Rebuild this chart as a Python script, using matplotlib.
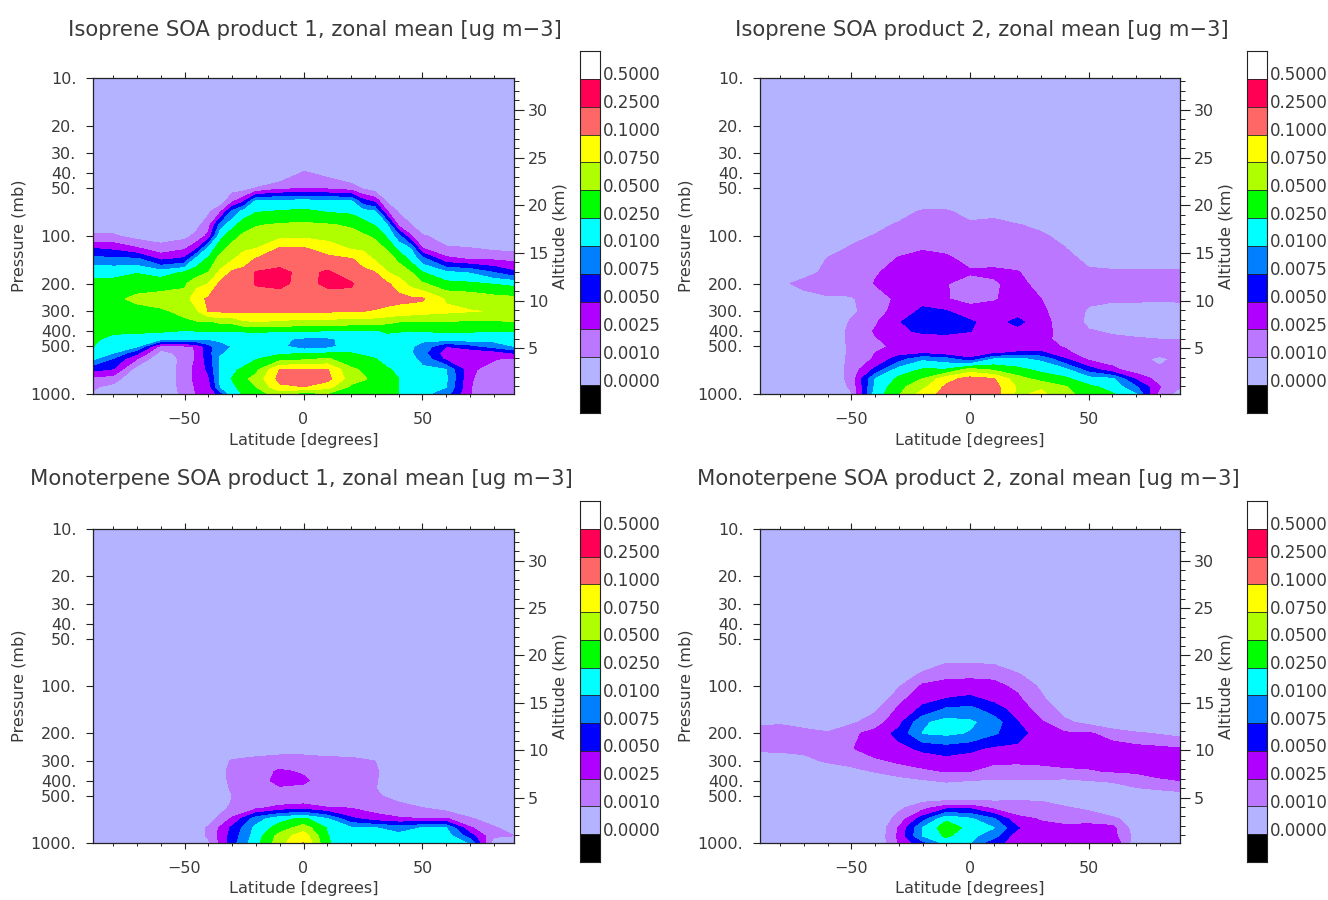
"""
Zonal mean SOA cross sections, four panels with a shared step colour scale.
"""
import numpy as np
import matplotlib
matplotlib.use("Agg")
import matplotlib.pyplot as plt
from matplotlib.colors import ListedColormap
from matplotlib.ticker import FixedLocator, FixedFormatter, NullLocator

W, H = 1328, 900

lat = [-88.5, -80, -70, -60, -50, -40, -30, -20, -10, 0, 10, 20, 30, 40, 50, 60, 70, 80, 88.5]
lat_iso1 = [-88.5, -80, -70, -60, -50, -45, -40, -35, -30, -25, -20, -10, 0, 10, 20, 25, 30, 35, 40, 45, 50, 60, 70, 80, 88.5]
pres = [10, 30, 40, 50, 60, 70, 85, 100, 120, 140, 170, 200, 250, 300, 350, 400, 450, 500, 550, 600, 700, 800, 900, 1000]

levels = [0, .001, .0025, .005, .0075, .01, .025, .05, .075, .1, .25, .5]
level_labels = ['0.0000', '0.0010', '0.0025', '0.0050', '0.0075', '0.0100',
                '0.0250', '0.0500', '0.0750', '0.1000', '0.2500', '0.5000']
colors = ['#b3b3ff', '#bb77ff', '#b000ff', '#0000ff', '#0080ff', '#00ffff',
          '#00ff00', '#b0ff00', '#ffff00', '#ff6666', '#ff0055', '#ffffff']

p_ticks = [10, 20, 30, 40, 50, 100, 200, 300, 400, 500, 1000]

# one row per latitude, one column per pressure level
iso1 = [
    [0, 0, 0, 0, 0, 0, .0005, .0012, .005, .0085, .022, .03, .035, .035, .035, .032, .028, .0255, .018, .012, .0055, .002, .0012, .0009],
    [0, 0, 0, 0, 0, 0, .0005, .0012, .0045, .008, .022, .03, .045, .04, .032, .028, .022, .015, .0105, .0072, .0048, .0017, .0007, .0004],
    [0, 0, 0, 0, 0, 0, 0, .0006, .0028, .008, .024, .04, .055, .042, .035, .028, .02, .0115, .0055, .0025, .0004, 0, 0, 0],
    [0, 0, 0, 0, 0, 0, 0, .0005, .0016, .0045, .018, .04, .06, .046, .038, .028, .012, .0018, .0006, 0, 0, 0, 0, 0],
    [0, 0, 0, 0, 0, 0, 0, .0007, .0023, .0055, .028, .045, .062, .056, .045, .024, .01, .0022, .0016, .0016, .0018, .0018, .0017, .0015],
    [0, 0, 0, 0, 0, 0, .0007, .0014, .0045, .016, .037, .068, .09, .07, .048, .025, .01, .0027, .0027, .0028, .0032, .0031, .0028, .0026],
    [0, 0, 0, 0, 0, .0008, .0018, .0032, .0145, .029, .05, .075, .125, .105, .045, .025, .0105, .0065, .0065, .0062, .0055, .0045, .0035, .003],
    [0, 0, 0, 0, .0004, .0022, .0085, .02, .04, .06, .08, .13, .17, .115, .055, .025, .0125, .0092, .0098, .0115, .012, .0115, .0105, .006],
    [0, 0, 0, .0006, .0021, .008, .02, .04, .06, .072, .13, .17, .2, .12, .055, .025, .013, .0105, .012, .015, .022, .026, .022, .018],
    [0, 0, 0, .0006, .0045, .017, .038, .056, .07, .09, .14, .18, .19, .12, .07, .027, .014, .011, .013, .018, .03, .045, .035, .028],
    [0, 0, 0, .0011, .012, .024, .048, .06, .075, .11, .27, .27, .17, .11, .074, .028, .015, .012, .016, .024, .043, .058, .05, .04],
    [0, 0, 0, .0022, .0135, .027, .053, .068, .115, .17, .33, .31, .17, .115, .07, .026, .013, .014, .022, .04, .105, .15, .095, .06],
    [0, 0, .0012, .0024, .0145, .03, .055, .07, .115, .15, .2, .2, .16, .115, .065, .027, .0095, .0085, .024, .045, .115, .16, .1, .035],
    [0, 0, .0007, .0023, .013, .024, .052, .065, .09, .14, .29, .3, .17, .115, .065, .024, .0095, .0092, .025, .053, .11, .15, .085, .048],
    [0, 0, 0, .0018, .0115, .022, .047, .058, .073, .11, .16, .28, .2, .1, .062, .024, .016, .018, .025, .035, .055, .062, .045, .032],
    [0, 0, 0, .0009, .0058, .016, .036, .054, .07, .092, .13, .17, .19, .1, .06, .023, .016, .018, .023, .03, .047, .053, .04, .03],
    [0, 0, 0, .0005, .0042, .012, .024, .046, .06, .072, .105, .14, .16, .098, .06, .022, .015, .017, .021, .026, .036, .044, .035, .028],
    [0, 0, 0, 0, .0008, .0028, .012, .023, .048, .062, .077, .12, .15, .094, .055, .03, .016, .015, .017, .02, .028, .032, .03, .027],
    [0, 0, 0, 0, 0, .0009, .0021, .0085, .021, .045, .064, .09, .14, .09, .05, .027, .016, .014, .015, .017, .022, .025, .025, .025],
    [0, 0, 0, 0, 0, 0, .0011, .0028, .0102, .021, .052, .066, .13, .088, .048, .025, .015, .0115, .012, .013, .016, .018, .018, .017],
    [0, 0, 0, 0, 0, 0, 0, .0012, .0026, .0085, .026, .053, .12, .085, .047, .027, .013, .0092, .0085, .0095, .012, .013, .014, .014],
    [0, 0, 0, 0, 0, 0, 0, .0005, .0012, .0032, .013, .032, .072, .08, .047, .027, .016, .005, .0035, .0042, .0105, .012, .0105, .0085],
    [0, 0, 0, 0, 0, 0, 0, 0, .0011, .0024, .0098, .029, .068, .076, .047, .027, .017, .0065, .0027, .003, .003, .0028, .0027, .0026],
    [0, 0, 0, 0, 0, 0, 0, 0, .0008, .0023, .0075, .024, .06, .074, .045, .025, .015, .0085, .0033, .0027, .0018, .0014, .001, .0012],
    [0, 0, 0, 0, 0, 0, 0, 0, .0007, .0021, .0055, .021, .057, .07, .05, .025, .016, .01, .0052, .0022, .0017, .0016, .0015, .0013],
]

iso2 = [
    [0] * 24,
    [0, 0, 0, 0, 0, 0, 0, 0, 0, 0, 0, .0008, 0, 0, 0, 0, 0, 0, 0, 0, 0, 0, 0, 0],
    [0, 0, 0, 0, 0, 0, 0, 0, 0, 0, .0007, .0014, .0006, 0, 0, 0, 0, 0, 0, 0, 0, 0, 0, 0],
    [0, 0, 0, 0, 0, 0, 0, 0, .0006, .0011, .0013, .0015, .0009, .0004, 0, 0, 0, 0, 0, 0, 0, 0, 0, 0],
    [0, 0, 0, 0, 0, 0, 0, .0007, .0012, .0015, .0017, .0016, .0009, .0008, .0012, .0015, .0015, .0014, .0014, .0015, .0016, .0016, .0013, .0009],
    [0, 0, 0, 0, 0, 0, .0007, .0011, .0015, .0018, .0024, .0026, .0018, .0018, .0023, .0027, .0024, .0023, .0025, .0028, .0055, .01, .013, .017],
    [0, 0, 0, 0, 0, .0006, .0012, .0015, .0021, .0027, .0031, .0033, .003, .0036, .0048, .0045, .0033, .0028, .004, .0062, .017, .03, .042, .047],
    [0, 0, 0, 0, .0003, .0012, .0016, .0019, .0024, .0033, .0035, .0037, .0042, .0055, .0065, .0054, .004, .0034, .0045, .0095, .027, .05, .068, .085],
    [0, 0, 0, 0, .0003, .0012, .0015, .0019, .0023, .0028, .003, .0026, .0026, .0052, .0068, .0056, .004, .0026, .0032, .0085, .027, .09, .13, .16],
    [0, 0, 0, 0, 0, .0006, .0013, .0016, .0019, .0022, .0027, .002, .0021, .0034, .0054, .0051, .0034, .0027, .0027, .0055, .06, .16, .2, .22],
    [0, 0, 0, 0, 0, .0008, .0013, .0016, .002, .0023, .0027, .0024, .0024, .0033, .0037, .0035, .0031, .0029, .0045, .0105, .045, .11, .16, .17],
    [0, 0, 0, 0, 0, 0, .0011, .0015, .0018, .0021, .0026, .0029, .0032, .0038, .0058, .004, .0031, .0026, .0055, .012, .032, .06, .072, .07],
    [0, 0, 0, 0, 0, 0, .0007, .0013, .0016, .0018, .002, .0022, .0025, .0029, .0031, .0031, .0029, .0032, .0055, .0095, .021, .04, .072, .08],
    [0, 0, 0, 0, 0, 0, 0, .0006, .0011, .0014, .0015, .0016, .0016, .0018, .002, .0021, .0022, .0024, .003, .0052, .014, .03, .052, .057],
    [0, 0, 0, 0, 0, 0, 0, 0, 0, .0008, .0012, .0013, .0012, .0009, .0008, .0011, .0014, .0016, .0018, .0022, .0062, .016, .03, .04],
    [0, 0, 0, 0, 0, 0, 0, 0, 0, .0006, .0012, .0013, .0011, .0008, .0007, .0009, .0012, .0014, .0015, .0017, .0032, .012, .02, .027],
    [0, 0, 0, 0, 0, 0, 0, 0, 0, .0006, .0012, .0013, .0011, .0008, .0007, .0008, .0011, .0013, .0012, .0012, .0016, .0045, .0078, .01],
    [0, 0, 0, 0, 0, 0, 0, 0, 0, .0006, .0012, .0013, .0011, .0007, .0006, .0007, .001, .0012, .0012, .0009, .0011, .0018, .0026, .0018],
    [0, 0, 0, 0, 0, 0, 0, 0, 0, .0006, .0012, .0013, .0011, .0008, .0006, .0006, .001, .0012, .0012, .0012, .0012, .0012, .0011, .0006],
]

mono1 = [
    [0] * 24,
    [0] * 24,
    [0] * 24,
    [0] * 24,
    [0] * 24,
    [0, 0, 0, 0, 0, 0, 0, 0, 0, 0, 0, 0, 0, 0, 0, 0, 0, 0, 0, 0, .0005, .0012, .0012, .0008],
    [0, 0, 0, 0, 0, 0, 0, 0, 0, 0, 0, 0, 0, .0012, .0015, .0014, .0012, .001, .0011, .0014, .0028, .0055, .006, .0065],
    [0, 0, 0, 0, 0, 0, 0, 0, 0, 0, 0, 0, .0005, .0014, .0017, .0018, .0014, .0013, .0016, .0022, .0088, .014, .017, .02],
    [0, 0, 0, 0, 0, 0, 0, 0, 0, 0, 0, 0, .0006, .0016, .0029, .0033, .0023, .0016, .0019, .0035, .02, .036, .06, .065],
    [0, 0, 0, 0, 0, 0, 0, 0, 0, 0, 0, 0, .0006, .0016, .0023, .003, .0021, .0017, .0021, .0042, .03, .062, .09, .105],
    [0, 0, 0, 0, 0, 0, 0, 0, 0, 0, 0, 0, .0004, .0015, .0017, .0016, .0014, .0014, .0015, .0028, .011, .024, .026, .028],
    [0, 0, 0, 0, 0, 0, 0, 0, 0, 0, 0, 0, .0004, .0014, .0016, .0015, .0014, .0013, .0014, .0025, .0055, .012, .015, .015],
    [0, 0, 0, 0, 0, 0, 0, 0, 0, 0, 0, 0, 0, .001, .0013, .0012, .0011, .0013, .0012, .0019, .0036, .0105, .014, .015],
    [0, 0, 0, 0, 0, 0, 0, 0, 0, 0, 0, 0, 0, 0, 0, 0, 0, .0005, .001, .0015, .0028, .009, .014, .015],
    [0, 0, 0, 0, 0, 0, 0, 0, 0, 0, 0, 0, 0, 0, 0, 0, 0, 0, .0004, .0011, .0025, .0105, .014, .016],
    [0, 0, 0, 0, 0, 0, 0, 0, 0, 0, 0, 0, 0, 0, 0, 0, 0, 0, 0, .0006, .0027, .0105, .017, .025],
    [0, 0, 0, 0, 0, 0, 0, 0, 0, 0, 0, 0, 0, 0, 0, 0, 0, 0, 0, 0, .0012, .0028, .0062, .0095],
    [0, 0, 0, 0, 0, 0, 0, 0, 0, 0, 0, 0, 0, 0, 0, 0, 0, 0, 0, 0, .0004, .0012, .0012, .0005],
    [0, 0, 0, 0, 0, 0, 0, 0, 0, 0, 0, 0, 0, 0, 0, 0, 0, 0, 0, 0, 0, .0005, .001, 0],
]

mono2 = [
    [0, 0, 0, 0, 0, 0, 0, 0, 0, 0, .0008, .0016, .0013, .0004, 0, 0, 0, 0, 0, 0, 0, 0, 0, 0],
    [0, 0, 0, 0, 0, 0, 0, 0, 0, 0, .0009, .0016, .0013, .0005, 0, 0, 0, 0, 0, 0, 0, 0, 0, 0],
    [0, 0, 0, 0, 0, 0, 0, 0, 0, 0, .0006, .0015, .0014, .0007, 0, 0, 0, 0, 0, 0, 0, 0, 0, 0],
    [0, 0, 0, 0, 0, 0, 0, 0, 0, 0, .0002, .0012, .0016, .0012, .0003, 0, 0, 0, 0, 0, 0, 0, 0, 0],
    [0, 0, 0, 0, 0, 0, 0, 0, 0, 0, .0008, .0022, .0024, .0015, .0007, 0, 0, 0, 0, 0, 0, 0, 0, 0],
    [0, 0, 0, 0, 0, 0, 0, 0, 0, .0008, .0018, .0033, .0038, .0022, .0011, .0002, 0, 0, 0, 0, 0, 0, 0, 0],
    [0, 0, 0, 0, 0, 0, 0, .0009, .002, .0029, .0042, .0058, .0042, .0029, .0017, .0006, 0, 0, 0, .0008, .0016, .0027, .003, .0028],
    [0, 0, 0, 0, 0, 0, .0015, .0029, .0042, .0055, .0095, .0105, .0055, .0035, .0022, .0009, 0, 0, .001, .002, .0062, .0105, .0105, .0065],
    [0, 0, 0, 0, 0, .0009, .0022, .0032, .005, .0078, .016, .013, .0062, .004, .0026, .0012, .0004, .0006, .0012, .0045, .022, .04, .03, .015],
    [0, 0, 0, 0, 0, .0009, .0022, .0035, .0055, .0082, .0125, .0098, .0055, .0038, .0025, .001, .0003, .0006, .0013, .0048, .012, .02, .014, .011],
    [0, 0, 0, 0, 0, .0008, .0022, .0031, .0042, .0062, .0088, .0078, .0045, .0029, .002, .0009, .0003, .0004, .0012, .0022, .0078, .0105, .0085, .0055],
    [0, 0, 0, 0, 0, 0, .0013, .0022, .0029, .0037, .0051, .0062, .0043, .0028, .002, .0009, .0002, .0006, .0012, .0017, .0031, .0052, .0034, .0043],
    [0, 0, 0, 0, 0, 0, 0, .0008, .0013, .0019, .0028, .0034, .0037, .0029, .0021, .0009, .0001, .0006, .0011, .0016, .0024, .003, .0035, .0045],
    [0, 0, 0, 0, 0, 0, 0, 0, 0, .0006, .0013, .0028, .0034, .003, .0023, .0008, 0, .0002, .0007, .0012, .0021, .0029, .0033, .0048],
    [0, 0, 0, 0, 0, 0, 0, 0, 0, 0, .0007, .0027, .0034, .003, .0024, .001, 0, 0, .0003, .0008, .002, .0032, .0034, .0048],
    [0, 0, 0, 0, 0, 0, 0, 0, 0, 0, 0, .002, .0034, .0031, .0026, .0012, .0005, 0, 0, 0, .0014, .0032, .0034, .0048],
    [0, 0, 0, 0, 0, 0, 0, 0, 0, 0, 0, .0012, .0033, .0032, .0028, .0018, .0009, 0, 0, 0, .0003, .0004, .0006, .0003],
    [0, 0, 0, 0, 0, 0, 0, 0, 0, 0, 0, .0009, .003, .0032, .0029, .0024, .0012, .0003, 0, 0, 0, 0, 0, 0],
    [0, 0, 0, 0, 0, 0, 0, 0, 0, 0, 0, .0007, .0026, .0032, .003, .0025, .0014, .0006, 0, 0, 0, 0, 0, 0],
]

titles = ['Isoprene SOA product 1, zonal mean [ug m\u22123]',
          'Isoprene SOA product 2, zonal mean [ug m\u22123]',
          'Monoterpene SOA product 1, zonal mean [ug m\u22123]',
          'Monoterpene SOA product 2, zonal mean [ug m\u22123]']
title_x = [68, 735, 30, 697]
title_y = [30, 30, 479, 479]
panels = [iso1, iso2, mono1, mono2]
panel_lat = [lat_iso1, lat, lat, lat]
col_x = [(93, 514), (760, 1180)]
row_y = [(78, 394), (529, 843)]
cbar_x = [(580, 600), (1247, 1267)]
cbar_y = [(51, 413), (501, 862)]

TEXT = '#3a3a3a'
FRAME = '#222222'
plt.rcParams['font.family'] = 'DejaVu Sans'


def box(x0, x1, y0, y1):
    return [x0 / W, 1 - y1 / H, (x1 - x0) / W, (y1 - y0) / H]


def label(x, y, s, size=11.6, **kw):
    fig.text(x / W, 1 - y / H, s, fontsize=size, color=TEXT, ha=kw.pop('ha', 'center'), va='center', **kw)


def to_index(values):
    # contour in level-number space, the colour scale is not uniform
    return np.interp(np.asarray(values, dtype=float), levels, np.arange(len(levels)))


fig = plt.figure(figsize=(W / 100, H / 100), dpi=100)
fill_levels = [-1] + list(range(1, 13))

for i, data in enumerate(panels):
    r, c = i // 2, i % 2
    x0, x1 = col_x[c]
    y0, y1 = row_y[r]
    ax = fig.add_axes(box(x0, x1, y0, y1))
    Z = to_index(data).T
    ax.contourf(panel_lat[i], pres, Z, levels=fill_levels, colors=colors)
    ax.set_yscale('log')
    ax.set_ylim(1000, 10)
    ax.set_xlim(-88.5, 88.5)

    ax.yaxis.set_major_locator(FixedLocator(p_ticks))
    ax.yaxis.set_major_formatter(FixedFormatter(['%d.' % p for p in p_ticks]))
    ax.yaxis.set_minor_locator(NullLocator())
    ax.set_xticks([-50, 0, 50])
    ax.set_xticklabels(['\u221250', '0', '50'])
    ax.set_xticks(np.arange(-80, 81, 10), minor=True)
    ax.tick_params(axis='y', which='major', length=5, width=0.8, color=FRAME, labelsize=11.5, labelcolor=TEXT, pad=7)
    ax.tick_params(axis='x', which='major', length=4, width=0.8, color=FRAME, labelsize=11.5, labelcolor=TEXT, pad=9, top=True)
    ax.tick_params(axis='x', which='minor', length=2.2, width=0.7, color=FRAME, top=True)
    for s in ax.spines.values():
        s.set_color(FRAME)
        s.set_linewidth(0.9)

    # altitude scale on the right
    ax2 = ax.twinx()
    ax2.set_ylim(0.2, 33.35)
    ax2.set_yticks([5, 10, 15, 20, 25, 30])
    ax2.set_yticks(np.arange(1, 34), minor=True)
    ax2.tick_params(axis='y', which='major', length=7, width=0.8, color=FRAME, labelsize=11.5, labelcolor=TEXT, pad=3)
    ax2.tick_params(axis='y', which='minor', length=3.5, width=0.7, color=FRAME)
    for s in ax2.spines.values():
        s.set_visible(False)

    label(title_x[i], title_y[i], titles[i], size=15.2, ha='left')
    label((x0 + x1) / 2, y1 + 46, 'Latitude [degrees]')
    label(x0 - 74, (y0 + y1) / 2, 'Pressure (mb)', rotation=90)
    label(x1 + 46, (y0 + y1) / 2, 'Altitude (km)', rotation=90)

    # step colour bar
    bx0, bx1 = cbar_x[c]
    by0, by1 = cbar_y[r]
    cax = fig.add_axes(box(bx0, bx1, by0, by1))
    bins = ListedColormap(['black'] + colors)
    cax.pcolormesh([0, 1], np.arange(14), np.arange(13).reshape(-1, 1), cmap=bins, vmin=-0.5, vmax=12.5)
    cax.hlines(np.arange(1, 13), 0, 1, color=FRAME, lw=0.6)
    cax.set_xticks([])
    cax.yaxis.tick_right()
    cax.set_yticks(np.arange(1, 13) + 0.2)
    cax.set_yticklabels(level_labels)
    cax.tick_params(axis='y', length=0, labelsize=12, labelcolor=TEXT, pad=2)
    for s in cax.spines.values():
        s.set_color(FRAME)
        s.set_linewidth(0.8)

fig.savefig('out.png', dpi=100)
